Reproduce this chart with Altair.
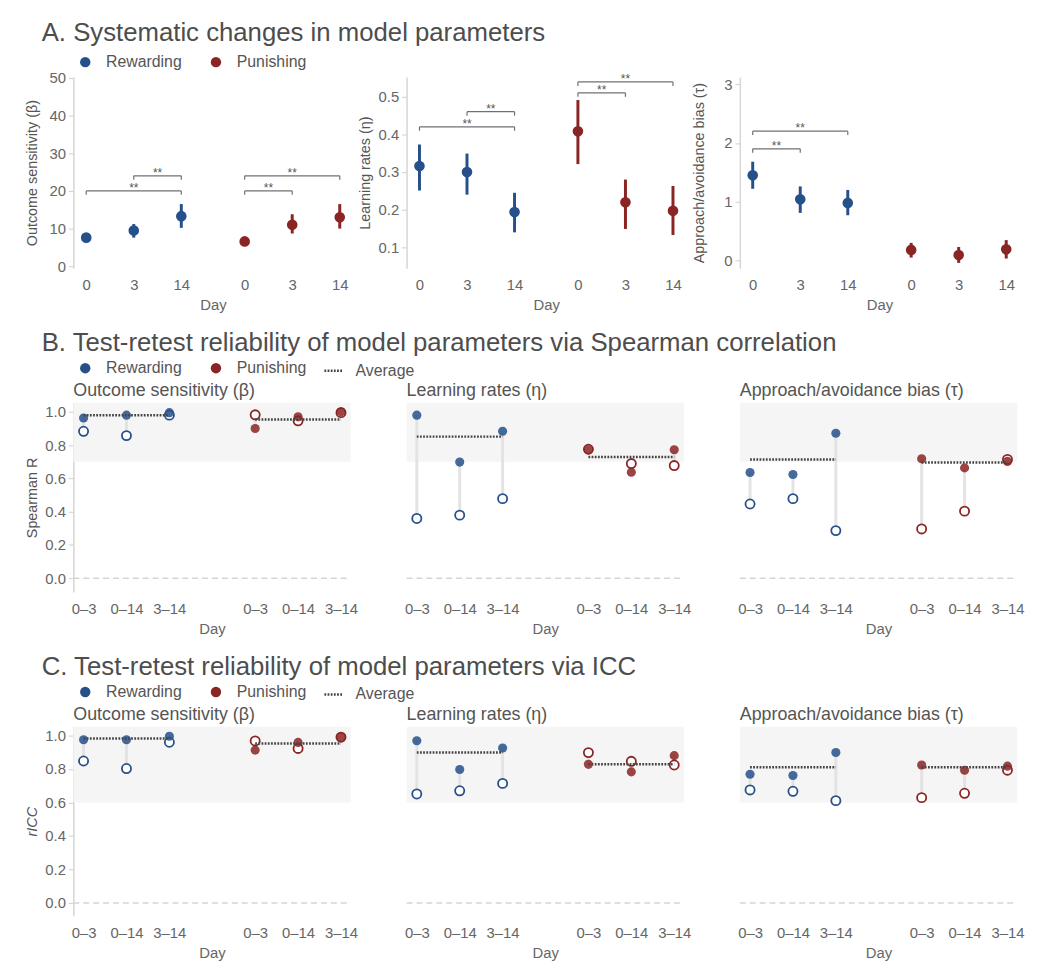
import json
import altair as alt
import pandas as pd

FONT = "Liberation Sans"
BLUE = "#25508a"
RED = "#8a2525"
DARK = "#4d4d4d"
MID = "#555555"
LIGHT = "#666666"
AXISC = "#d6d6d6"

conditions = ["Rewarding", "Punishing"]
cond_colors = [BLUE, RED]
days = ["0", "3", "14"]
pairs = ["0\u20133", "0\u201314", "3\u201314"]

# ---------------- A. means and error bars (Day 0, 3, 14) ----------------
beta_rew_mean = [7.6, 9.5, 13.3]
beta_rew_lo = [6.9, 7.6, 10.2]
beta_rew_hi = [8.4, 11.2, 16.5]
beta_pun_mean = [6.6, 11.0, 13.0]
beta_pun_lo = [5.9, 8.7, 10.0]
beta_pun_hi = [7.4, 13.8, 16.5]

eta_rew_mean = [0.316, 0.300, 0.194]
eta_rew_lo = [0.251, 0.240, 0.140]
eta_rew_hi = [0.373, 0.349, 0.245]
eta_pun_mean = [0.408, 0.220, 0.197]
eta_pun_lo = [0.321, 0.149, 0.133]
eta_pun_hi = [0.491, 0.280, 0.263]

tau_rew_mean = [1.45, 1.04, 0.98]
tau_rew_lo = [1.22, 0.81, 0.77]
tau_rew_hi = [1.68, 1.26, 1.20]
tau_pun_mean = [0.18, 0.094, 0.19]
tau_pun_lo = [0.05, -0.04, 0.034]
tau_pun_hi = [0.30, 0.23, 0.347]

# significance brackets: (condition, from day, to day, height)
beta_sig = [("Rewarding", "0", "14", 20.0), ("Rewarding", "3", "14", 24.0),
            ("Punishing", "0", "3", 20.0), ("Punishing", "0", "14", 24.0)]
eta_sig = [("Rewarding", "0", "14", 0.42), ("Rewarding", "3", "14", 0.46),
           ("Punishing", "0", "3", 0.51), ("Punishing", "0", "14", 0.539)]
tau_sig = [("Rewarding", "0", "3", 1.9), ("Rewarding", "0", "14", 2.2)]

# ---------------- B. Spearman (filled / open points, averages) ----------------
sp_beta_rew_f = [0.963, 0.980, 0.995]
sp_beta_rew_o = [0.883, 0.857, 0.980]
sp_beta_pun_f = [0.900, 0.970, 1.000]
sp_beta_pun_o = [0.982, 0.946, 0.995]
sp_beta_avg = [0.980, 0.954]

sp_eta_rew_f = [0.980, 0.698, 0.883]
sp_eta_rew_o = [0.359, 0.379, 0.478]
sp_eta_pun_f = [0.772, 0.637, 0.772]
sp_eta_pun_o = [0.775, 0.689, 0.677]
sp_eta_avg = [0.851, 0.728]

sp_tau_rew_f = [0.635, 0.623, 0.871]
sp_tau_rew_o = [0.446, 0.478, 0.286]
sp_tau_pun_f = [0.718, 0.663, 0.702]
sp_tau_pun_o = [0.296, 0.403, 0.714]
sp_tau_avg = [0.714, 0.696]

# ---------------- C. ICC ----------------
icc_beta_rew_f = [0.975, 0.975, 0.996]
icc_beta_rew_o = [0.848, 0.803, 0.960]
icc_beta_pun_f = [0.913, 0.959, 0.990]
icc_beta_pun_o = [0.968, 0.923, 0.990]
icc_beta_avg = [0.982, 0.953]

icc_eta_rew_f = [0.969, 0.797, 0.925]
icc_eta_rew_o = [0.651, 0.670, 0.714]
icc_eta_pun_f = [0.828, 0.783, 0.880]
icc_eta_pun_o = [0.898, 0.846, 0.824]
icc_eta_avg = [0.899, 0.828]

icc_tau_rew_f = [0.769, 0.761, 0.899]
icc_tau_rew_o = [0.675, 0.667, 0.611]
icc_tau_pun_f = [0.824, 0.793, 0.817]
icc_tau_pun_o = [0.629, 0.655, 0.793]
icc_tau_avg = [0.811, 0.811]

# ---------------- layout helpers ----------------
def a_slot(ci, di):
    return 3 * di + 10 * ci


def b_slot(ci, di):
    return di + 4 * ci


A_TICKS = [a_slot(c, d) for c in range(2) for d in range(3)]
B_TICKS = [b_slot(c, d) for c in range(2) for d in range(3)]
A_XDOM = [-0.8125, 16.8125]
B_XDOM = [-0.238, 6.225]
A_W, A_H = 282, 193
B_W, B_H = 280, 191
SPACING = 336.5


def label_expr(labels, ticks):
    return "%s[indexof(%s, datum.value)]" % (
        json.dumps(labels, ensure_ascii=False), json.dumps(ticks))


color_scale = alt.Scale(domain=conditions, range=cond_colors)


def color_legend(offset):
    return alt.Legend(
        title=None, orient="top", direction="horizontal", symbolType="circle",
        symbolSize=110, symbolOpacity=1, symbolStrokeWidth=0, labelFontSize=16,
        labelColor=MID, labelOffset=13, columnPadding=26, offset=offset, padding=4)


def dash_legend(offset):
    return alt.Legend(
        title=None, orient="top", direction="horizontal", symbolType="stroke",
        symbolSize=324, symbolStrokeWidth=2.5, symbolStrokeColor="#444444",
        labelFontSize=16, labelColor=MID, labelOffset=12, offset=offset, padding=4)


def y_axis(title, values, fmt, show=True, italic=False):
    if not show:
        return None
    kw = dict(values=values, format=fmt, title=title, grid=False,
              domainColor=AXISC, domainWidth=1.5, tickColor=AXISC,
              tickSize=5, tickWidth=1.2, labelFontSize=15, labelColor=LIGHT,
              labelPadding=3, titleFontSize=14.5, titleColor=MID,
              titleFontWeight="normal", titlePadding=3,
              minExtent=31, maxExtent=31)
    if italic:
        kw["titleFontStyle"] = "italic"
    return alt.Axis(**kw)


def x_axis(ticks, labels):
    return alt.Axis(values=ticks, labelExpr=label_expr(labels, ticks),
                    title="Day", domain=False, ticks=False, grid=False,
                    labelFontSize=15, labelColor=LIGHT, labelPadding=10,
                    titleFontSize=15, titleColor=LIGHT, titleFontWeight="normal",
                    titlePadding=5)


def a_panel(rew, pun, sig, ytitle, ydom, yvals, yfmt):
    rows = []
    for ci, (cond, (m, lo, hi)) in enumerate(zip(conditions, [rew, pun])):
        for di, day in enumerate(days):
            rows.append(dict(cond=cond, day=day, pos=a_slot(ci, di),
                             m=m[di], lo=lo[di], hi=hi[di]))
    df = pd.DataFrame(rows)
    srows, erows = [], []
    for cond, d1, d2, h in sig:
        ci = conditions.index(cond)
        x1 = a_slot(ci, days.index(d1))
        x2 = a_slot(ci, days.index(d2))
        srows.append(dict(x1=x1, x2=x2, xm=(x1 + x2) / 2, y=h))
        erows += [dict(x=x1, y=h), dict(x=x2, y=h)]
    sdf = pd.DataFrame(srows)
    edf = pd.DataFrame(erows)

    xs = alt.Scale(domain=A_XDOM, nice=False, zero=False)
    ys = alt.Scale(domain=ydom, nice=False, zero=False)
    xax = x_axis(A_TICKS, days * 2)
    yax = y_axis(ytitle, yvals, yfmt)
    X = lambda f: alt.X(f, scale=xs, axis=xax, title="Day")
    Y = lambda f: alt.Y(f, scale=ys, axis=yax, title=ytitle)
    color = alt.Color("cond:N", scale=color_scale, legend=color_legend(-4))

    bars = alt.Chart(df).mark_rule(strokeWidth=3).encode(
        x=X("pos:Q"), y=Y("lo:Q"), y2="hi:Q", color=color)
    pts = alt.Chart(df).mark_circle(size=115, opacity=1).encode(
        x=X("pos:Q"), y=Y("m:Q"), color=color)
    brk = alt.Chart(sdf).mark_rule(color="#707070", strokeWidth=1.2).encode(
        x=X("x1:Q"), x2="x2:Q", y=Y("y:Q"))
    ends = alt.Chart(edf).mark_point(
        shape="M0,0L0,1", size=64, filled=False, color="#707070",
        strokeWidth=1.2, opacity=1).encode(x=X("x:Q"), y=Y("y:Q"))
    stars = alt.Chart(sdf).mark_text(
        text="**", fontSize=12, color=MID, baseline="alphabetic", dy=1).encode(
        x=X("xm:Q"), y=Y("y:Q"))
    return alt.layer(bars, pts, brk, ends, stars).properties(width=A_W, height=A_H)


def b_panel(rew_f, rew_o, pun_f, pun_o, avg, subtitle, ydom, band_lo,
            ytitle, show_axis, italic=False):
    rows = []
    for ci, (cond, f, o) in enumerate(zip(conditions, [rew_f, pun_f], [rew_o, pun_o])):
        for di, pr in enumerate(pairs):
            rows.append(dict(cond=cond, pair=pr, pos=b_slot(ci, di), f=f[di], o=o[di]))
    df = pd.DataFrame(rows)
    adf = pd.DataFrame([dict(cond=c, x1=b_slot(ci, 0), x2=b_slot(ci, 2), a=avg[ci], lbl="Average")
                        for ci, c in enumerate(conditions)])
    band = pd.DataFrame([dict(x1=B_XDOM[0], x2=B_XDOM[1], y1=band_lo, y2=ydom[1])])
    zero = pd.DataFrame([dict(x1=B_XDOM[0], x2=B_XDOM[1], y=0.0)])

    xs = alt.Scale(domain=B_XDOM, nice=False, zero=False)
    ys = alt.Scale(domain=ydom, nice=False, zero=False)
    xax = x_axis(B_TICKS, pairs * 2)
    yax = y_axis(ytitle, [0, 0.2, 0.4, 0.6, 0.8, 1.0], ".1f", show_axis, italic)
    X = lambda f: alt.X(f, scale=xs, axis=xax, title="Day")
    Y = lambda f: alt.Y(f, scale=ys, axis=yax, title=ytitle)

    l_band = alt.Chart(band).mark_rect(color="#f5f5f5").encode(
        x=X("x1:Q"), x2="x2:Q", y=Y("y1:Q"), y2="y2:Q")
    l_zero = alt.Chart(zero).mark_rule(color="#d5d5d5", strokeWidth=1.5,
                                      strokeDash=[6, 4]).encode(
        x=X("x1:Q"), x2="x2:Q", y=Y("y:Q"))
    l_conn = alt.Chart(df).mark_rule(color="#e3e3e3", strokeWidth=3).encode(
        x=X("pos:Q"), y=Y("f:Q"), y2="o:Q")
    l_open = [
        alt.Chart(df).transform_filter(alt.datum.cond == c).mark_point(
            filled=False, fill="white", fillOpacity=1, stroke=col, strokeWidth=1.8,
            size=85, opacity=1, shape="circle").encode(x=X("pos:Q"), y=Y("o:Q"))
        for c, col in zip(conditions, cond_colors)
    ]
    l_fill = alt.Chart(df).mark_circle(size=85, opacity=0.85).encode(
        x=X("pos:Q"), y=Y("f:Q"),
        color=alt.Color("cond:N", scale=color_scale, legend=color_legend(-1)))
    l_avg = alt.Chart(adf).mark_rule(color="#444444", strokeWidth=2.5).encode(
        x=X("x1:Q"), x2="x2:Q", y=Y("a:Q"),
        strokeDash=alt.StrokeDash("lbl:N", scale=alt.Scale(domain=["Average"], range=[[1.8, 1.4]]),
                                  legend=dash_legend(-1)))
    return alt.layer(l_band, l_zero, l_conn, *l_open, l_fill, l_avg).properties(
        width=B_W, height=B_H,
        title=alt.TitleParams(subtitle, anchor="start", frame="group", fontSize=18,
                              fontWeight="normal", color=MID, offset=3))


def section(title, panels, width, offset):
    return alt.hconcat(*panels, spacing=SPACING - width, bounds="flush").properties(
        title=alt.TitleParams(title, anchor="start", fontSize=26, fontWeight="normal",
                              color=DARK, offset=offset, dx=17)
    ).resolve_scale(x="independent", y="independent")


a1 = a_panel((beta_rew_mean, beta_rew_lo, beta_rew_hi), (beta_pun_mean, beta_pun_lo, beta_pun_hi),
             beta_sig, "Outcome sensitivity (\u03b2)", [-0.5, 50.2], [0, 10, 20, 30, 40, 50], "d")
a2 = a_panel((eta_rew_mean, eta_rew_lo, eta_rew_hi), (eta_pun_mean, eta_pun_lo, eta_pun_hi),
             eta_sig, "Learning rates (\u03b7)", [0.045, 0.552], [0.1, 0.2, 0.3, 0.4, 0.5], ".1f")
a3 = a_panel((tau_rew_mean, tau_rew_lo, tau_rew_hi), (tau_pun_mean, tau_pun_lo, tau_pun_hi),
             tau_sig, "Approach/avoidance bias (\u03c4)", [-0.13, 3.12], [0, 1, 2, 3], "d")

subs = ["Outcome sensitivity (\u03b2)", "Learning rates (\u03b7)", "Approach/avoidance bias (\u03c4)"]
SP_DOM = [-0.083, 1.054]
IC_DOM = [-0.077, 1.053]

b1 = b_panel(sp_beta_rew_f, sp_beta_rew_o, sp_beta_pun_f, sp_beta_pun_o, sp_beta_avg,
             subs[0], SP_DOM, 0.7, "Spearman R", True)
b2 = b_panel(sp_eta_rew_f, sp_eta_rew_o, sp_eta_pun_f, sp_eta_pun_o, sp_eta_avg,
             subs[1], SP_DOM, 0.7, "Spearman R", False)
b3 = b_panel(sp_tau_rew_f, sp_tau_rew_o, sp_tau_pun_f, sp_tau_pun_o, sp_tau_avg,
             subs[2], SP_DOM, 0.7, "Spearman R", False)

c1 = b_panel(icc_beta_rew_f, icc_beta_rew_o, icc_beta_pun_f, icc_beta_pun_o, icc_beta_avg,
             subs[0], IC_DOM, 0.6, "rICC", True, italic=True)
c2 = b_panel(icc_eta_rew_f, icc_eta_rew_o, icc_eta_pun_f, icc_eta_pun_o, icc_eta_avg,
             subs[1], IC_DOM, 0.6, "rICC", False)
c3 = b_panel(icc_tau_rew_f, icc_tau_rew_o, icc_tau_pun_f, icc_tau_pun_o, icc_tau_avg,
             subs[2], IC_DOM, 0.6, "rICC", False)

secA = section("A. Systematic changes in model parameters", [a1, a2, a3], A_W, 4)
secB = section("B. Test-retest reliability of model parameters via Spearman correlation",
               [b1, b2, b3], B_W, 0)
secC = section("C. Test-retest reliability of model parameters via ICC", [c1, c2, c3], B_W, 0)

chart = alt.vconcat(secA, secB, secC, spacing=18).resolve_scale(
    color="independent", strokeDash="independent"
).resolve_legend(color="independent", strokeDash="independent").properties(
    padding={"left": 17, "top": 8, "right": 5, "bottom": 5}
).configure(font=FONT).configure_view(stroke=None).configure_axis(
    grid=False, labelFont=FONT, titleFont=FONT
).configure_title(font=FONT).configure_legend(labelFont=FONT)

chart.save("out.html", embed_options={"renderer": "svg", "actions": False})
